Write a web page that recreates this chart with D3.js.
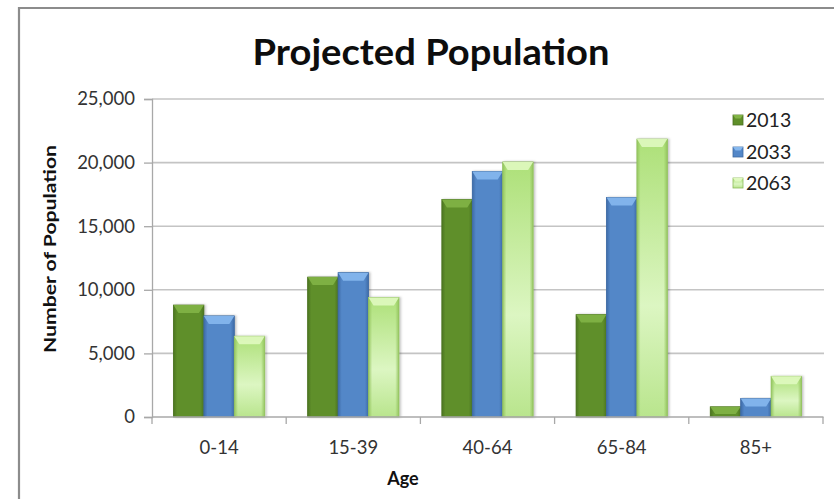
<!DOCTYPE html>
<html>
<head>
<meta charset="utf-8">
<script src="https://cdn.jsdelivr.net/npm/d3@7"></script>
<style>
  html, body { margin: 0; padding: 0; background: #fff; }
  svg { display: block; }
  text { font-family: Lato, "Open Sans", "DejaVu Sans", sans-serif; }
</style>
</head>
<body>
<svg id="chart" width="834" height="499"></svg>
<script>
// Projected population by age group
const categories = ["0-14", "15-39", "40-64", "65-84", "85+"];
const years = ["2013", "2033", "2063"];
const pop2013 = [8800, 11000, 17100, 8050, 800];
const pop2033 = [7950, 11350, 19300, 17250, 1450];
const pop2063 = [6350, 9400, 20050, 21850, 3200];
const yTicks = [0, 5000, 10000, 15000, 20000, 25000];

const seriesValues = [pop2013, pop2033, pop2063];

const svg = d3.select("#chart");
const W = 834, H = 499;
const plot = { left: 152, right: 823, top: 99, bottom: 417 };

// Palette per series: side edge, body, top bevel
const palette = {
  "2013": { edge: "#4b7420", body: ["#5f8f29", "#5f8f29", "#5f8f29"], cap: "#82b446", outline: "#4a6f22" },
  "2033": { edge: "#3d6aa6", body: ["#5387c8", "#5387c8", "#5387c8"], cap: "#86b8ee", outline: "#3f6aa0" },
  "2063": { edge: "#93c45e", body: ["#ade078", "#dcf6c2", "#b9e58d"], cap: "#e0f9c0", outline: "#8dbb5a" }
};

const defs = svg.append("defs");
years.forEach(yr => {
  const p = palette[yr];
  // vertical body gradient
  const gv = defs.append("linearGradient").attr("id", "body-" + yr)
    .attr("x1", 0).attr("y1", 0).attr("x2", 0).attr("y2", 1);
  gv.append("stop").attr("offset", "0%").attr("stop-color", p.body[0]);
  gv.append("stop").attr("offset", "60%").attr("stop-color", p.body[1]);
  gv.append("stop").attr("offset", "100%").attr("stop-color", p.body[2]);
  // horizontal shading toward the side edges
  const gh = defs.append("linearGradient").attr("id", "edge-" + yr)
    .attr("x1", 0).attr("y1", 0).attr("x2", 1).attr("y2", 0);
  gh.append("stop").attr("offset", "0%").attr("stop-color", p.edge).attr("stop-opacity", 0.95);
  gh.append("stop").attr("offset", "12%").attr("stop-color", p.edge).attr("stop-opacity", 0);
  gh.append("stop").attr("offset", "88%").attr("stop-color", p.edge).attr("stop-opacity", 0);
  gh.append("stop").attr("offset", "100%").attr("stop-color", p.edge).attr("stop-opacity", 0.95);
});
const shadow = defs.append("filter").attr("id", "shadow")
  .attr("x", "-20%").attr("y", "-5%").attr("width", "150%").attr("height", "120%");
shadow.append("feDropShadow").attr("dx", 1.5).attr("dy", 0).attr("stdDeviation", 1.2)
  .attr("flood-color", "#000").attr("flood-opacity", 0.25);

// Chart frame
svg.append("path")
  .attr("d", `M19,${H + 2} L19,8 L${W + 2},8`)
  .attr("fill", "none").attr("stroke", "#8c8c8c").attr("stroke-width", 2.2);

// Title
svg.append("text")
  .attr("x", 431).attr("y", 65)
  .attr("text-anchor", "middle")
  .attr("font-size", 36).attr("font-weight", 700)
  .attr("fill", "#0d0d0d")
  .attr("textLength", 357).attr("lengthAdjust", "spacingAndGlyphs")
  .text("Projected Population");

// Scales
const x = d3.scaleBand().domain(categories)
  .range([plot.left, plot.right]).paddingInner(0.32).paddingOuter(0.16);
const xs = d3.scaleBand().domain(years).range([0, x.bandwidth()]).padding(0);
const y = d3.scaleLinear().domain([0, 25000]).range([plot.bottom, plot.top]);

// Gridlines
svg.append("g").selectAll("line").data(yTicks.filter(t => t > 0)).join("line")
  .attr("x1", plot.left).attr("x2", plot.right + 1)
  .attr("y1", d => y(d)).attr("y2", d => y(d))
  .attr("stroke", "#c4c4c4").attr("stroke-width", 1.6);

// Y axis
const yAxis = svg.append("g").attr("transform", `translate(${plot.left},0)`)
  .call(d3.axisLeft(y).tickValues(yTicks).tickSize(8).tickPadding(10)
    .tickFormat(d3.format(",")));
yAxis.select(".domain").attr("stroke", "#a8a8a8").attr("stroke-width", 1.3);
yAxis.selectAll(".tick line").attr("stroke", "#a8a8a8").attr("stroke-width", 1.3);
yAxis.selectAll(".tick text").attr("font-size", 18.5).attr("fill", "#333")
  .attr("font-family", "Lato, sans-serif").attr("dx", 1);

// Bars
const groups = svg.append("g").selectAll("g").data(categories).join("g")
  .attr("transform", d => `translate(${x(d)},0)`);

const bars = groups.selectAll("g.bar")
  .data((c, i) => years.map((yr, s) => ({ cat: c, year: yr, value: seriesValues[s][i] })))
  .join("g").attr("class", "bar");

bars.append("rect")
  .attr("x", d => xs(d.year)).attr("y", d => y(d.value))
  .attr("width", xs.bandwidth()).attr("height", d => y(0) - y(d.value))
  .attr("fill", d => `url(#body-${d.year})`)
  .attr("stroke", d => palette[d.year].outline).attr("stroke-width", 0.8)
  .attr("filter", "url(#shadow)");

bars.append("rect")
  .attr("x", d => xs(d.year)).attr("y", d => y(d.value))
  .attr("width", xs.bandwidth()).attr("height", d => y(0) - y(d.value))
  .attr("fill", d => `url(#edge-${d.year})`);

// Bevelled top cap
bars.append("path")
  .attr("d", d => {
    const x0 = xs(d.year), x1 = x0 + xs.bandwidth();
    const top = y(d.value);
    const h = Math.min(8, (y(0) - top) * 0.7);
    const inset = 5;
    return `M${x0},${top} L${x1},${top} L${x1 - inset},${top + h} L${x0 + inset},${top + h} Z`;
  })
  .attr("fill", d => palette[d.year].cap)
  .attr("opacity", 0.9);

// X axis
const step = x.step();
const boundaries = d3.range(categories.length + 1).map(i => plot.left + i * step);
svg.append("line")
  .attr("x1", plot.left).attr("x2", plot.right + 0.5)
  .attr("y1", y(0)).attr("y2", y(0))
  .attr("stroke", "#a8a8a8").attr("stroke-width", 1.5);
svg.append("g").selectAll("line").data(boundaries).join("line")
  .attr("x1", d => d).attr("x2", d => d)
  .attr("y1", y(0)).attr("y2", y(0) + 7)
  .attr("stroke", "#a8a8a8").attr("stroke-width", 1.3);

svg.append("g").selectAll("text").data(categories).join("text")
  .attr("x", d => x(d) + x.bandwidth() / 2).attr("y", 454)
  .attr("text-anchor", "middle")
  .attr("font-size", 18.5).attr("fill", "#333")
  .text(d => d);

// Axis titles
svg.append("text")
  .attr("x", 403).attr("y", 485)
  .attr("text-anchor", "middle")
  .attr("font-size", 18).attr("font-weight", 700).attr("fill", "#111")
  .text("Age");

svg.append("text")
  .attr("transform", "translate(56,249) rotate(-90)")
  .attr("text-anchor", "middle")
  .attr("font-size", 17).attr("font-weight", 700).attr("fill", "#111")
  .attr("textLength", 208).attr("lengthAdjust", "spacingAndGlyphs")
  .text("Number of Population");

// Legend
const legend = svg.append("g").attr("transform", "translate(733,0)");
const legendRows = [120, 152, 183];
const items = legend.selectAll("g").data(years).join("g")
  .attr("transform", (d, i) => `translate(0,${legendRows[i]})`);
items.append("rect")
  .attr("x", 0).attr("y", -5).attr("width", 10).attr("height", 10)
  .attr("fill", d => `url(#body-${d})`)
  .attr("stroke", d => palette[d].outline).attr("stroke-width", 0.8);
items.append("path")
  .attr("d", "M0,-5 L10,-5 L7.5,-1.5 L2.5,-1.5 Z")
  .attr("fill", d => palette[d].cap);
items.append("text")
  .attr("x", 13).attr("y", 0).attr("dy", "0.36em")
  .attr("font-size", 19.5).attr("fill", "#222")
  .text(d => d);
</script>
</body>
</html>
